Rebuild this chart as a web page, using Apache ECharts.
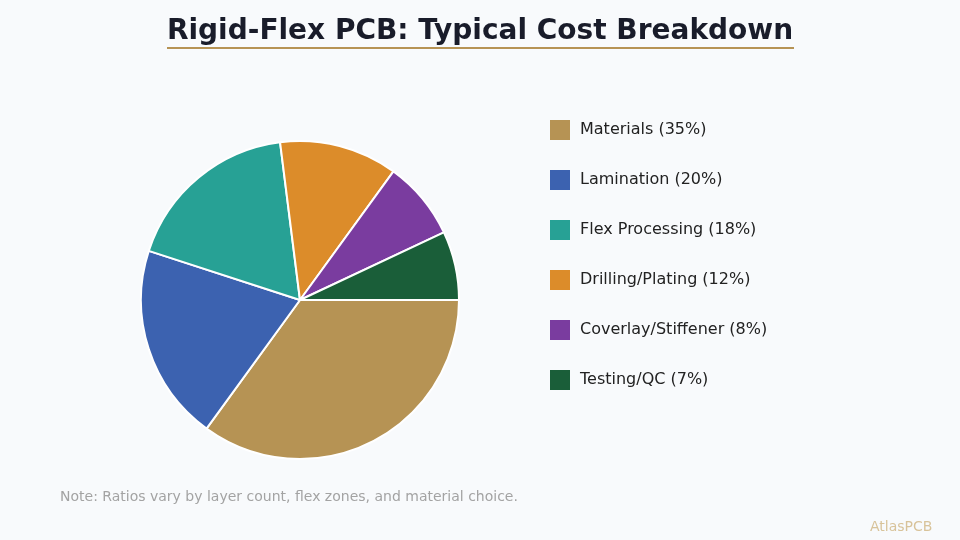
<!DOCTYPE html>
<html>
<head>
<meta charset="utf-8">
<title>Rigid-Flex PCB: Typical Cost Breakdown</title>
<script src="https://cdn.jsdelivr.net/npm/echarts@6/dist/echarts.min.js"></script>
<style>
  html, body { margin: 0; padding: 0; background: #f8fafc; }
  #chart { width: 960px; height: 540px; }
</style>
</head>
<body>
<div id="chart"></div>
<script>
// cost shares, in percent, in legend order
var categories = ['Materials', 'Lamination', 'Flex Processing', 'Drilling/Plating', 'Coverlay/Stiffener', 'Testing/QC'];
var shares = [35, 20, 18, 12, 8, 7];
var colors = ['#b69354', '#3c62b0', '#27a195', '#dc8c2a', '#7a3c9f', '#1a5e39'];

var FONT = 'DejaVu Sans';

var pieData = categories.map(function (name, i) {
  return { name: name, value: shares[i], itemStyle: { color: colors[i] } };
});

var chart = echarts.init(document.getElementById('chart'), null, { renderer: 'canvas' });
chart.setOption({
  backgroundColor: '#f8fafc',
  animation: false,
  title: {
    text: 'Rigid-Flex PCB: Typical Cost Breakdown',
    left: 'center',
    top: 13,
    textStyle: { fontFamily: FONT, fontSize: 28, fontWeight: 'bold', color: '#191c2a' }
  },
  legend: {
    orient: 'vertical',
    left: 550,
    top: 120,
    padding: 0,
    icon: 'rect',
    itemWidth: 20,
    itemHeight: 20,
    itemGap: 30,
    itemStyle: { borderWidth: 0 },
    textStyle: { fontFamily: FONT, fontSize: 16, color: '#222222', padding: [0, 0, 0, 5] },
    formatter: function (name) {
      return name + ' (' + shares[categories.indexOf(name)] + '%)';
    },
    selectedMode: false
  },
  graphic: [
    { type: 'rect', shape: { x: 167, y: 47, width: 627, height: 2 }, style: { fill: '#b69354' } },
    {
      type: 'text', left: 60, top: 490,
      style: { text: 'Note: Ratios vary by layer count, flex zones, and material choice.', font: '14px "DejaVu Sans"', fill: '#a3a3a3' }
    },
    {
      type: 'text', left: 870, top: 520,
      style: { text: 'AtlasPCB', font: '14px "DejaVu Sans"', fill: '#d8c39a' }
    }
  ],
  series: [{
    type: 'pie',
    center: [300, 300],
    radius: 159,
    startAngle: 0,
    clockwise: true,
    label: { show: false },
    labelLine: { show: false },
    itemStyle: { borderColor: '#ffffff', borderWidth: 2 },
    emphasis: { scale: false },
    data: pieData
  }]
});
</script>
</body>
</html>
